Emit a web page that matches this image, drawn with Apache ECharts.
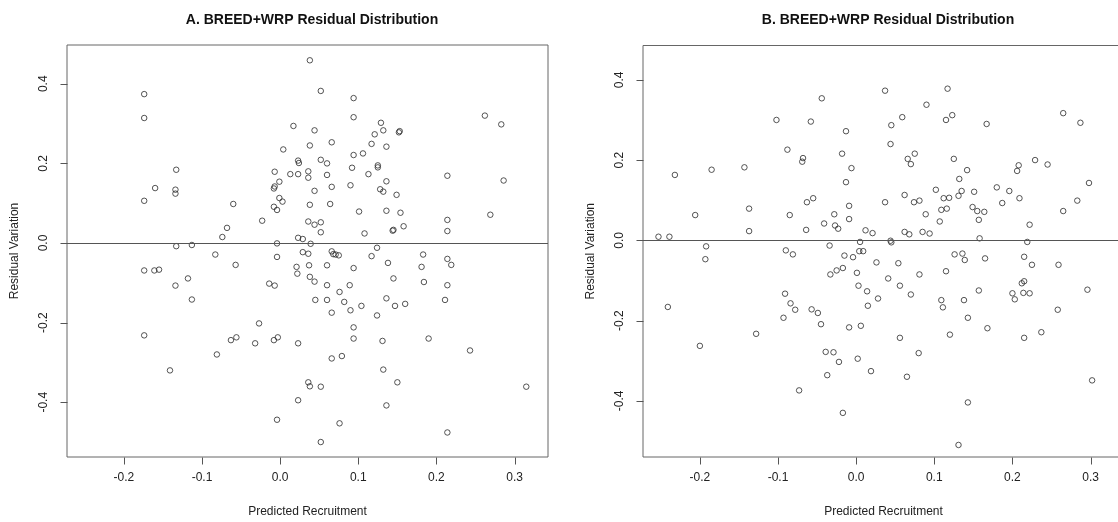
<!DOCTYPE html>
<html>
<head>
<meta charset="utf-8">
<script src="https://cdn.jsdelivr.net/npm/echarts@6/dist/echarts.min.js"></script>
<style>
html,body{margin:0;padding:0;background:#fff;}
#chart{width:1118px;height:522px;}
</style>
</head>
<body>
<div id="chart"></div>
<script>
// ---- Data ----
const titles = ["A. BREED+WRP Residual Distribution", "B. BREED+WRP Residual Distribution"];
const xAxisName = "Predicted Recruitment";
const yAxisName = "Residual Variation";
const xTicks = [-0.2, -0.1, 0.0, 0.1, 0.2, 0.3];
const yTicks = [-0.4, -0.2, 0.0, 0.2, 0.4];

const leftX = [
-0.174,-0.174,-0.133,-0.160,-0.134,-0.134,-0.174,-0.060,-0.068,-0.074,-0.023,0.017,0.004,-0.007,0.013,0.023,0.024,0.023,-0.001,-0.007,-0.008,-0.001,0.003,-0.008,-0.004,0.023,0.029,-0.133,-0.113,-0.004,
0.038,0.052,0.094,0.094,0.044,0.066,0.038,0.129,0.132,0.121,0.117,0.136,0.152,0.153,0.094,0.106,0.052,0.060,0.125,0.125,0.092,0.036,0.036,0.060,0.113,0.066,0.044,0.090,0.136,0.128,0.132,0.149,0.038,0.064,0.101,0.136,0.154,0.036,0.044,0.052,0.052,0.108,0.144,0.145,0.158,0.214,0.214,0.214,0.262,0.283,0.286,0.269,0.039,0.124,
-0.083,-0.057,-0.004,0.029,-0.174,-0.161,-0.155,-0.118,-0.134,-0.113,-0.014,-0.007,0.021,0.022,-0.027,-0.174,-0.063,-0.056,-0.032,-0.008,-0.003,0.023,-0.081,-0.141,0.023,-0.004,
0.036,0.066,0.068,0.071,0.075,0.117,0.037,0.060,0.094,0.138,0.183,0.181,0.214,0.219,0.038,0.044,0.060,0.089,0.076,0.145,0.184,0.214,0.045,0.060,0.082,0.104,0.090,0.066,0.136,0.147,0.160,0.211,0.124,0.094,0.094,0.131,0.190,0.243,0.066,0.079,0.132,0.036,0.038,0.052,0.150,0.136,0.076,0.214,0.052,0.315
];
const leftY = [
0.374,0.314,0.184,0.138,0.134,0.124,0.106,0.098,0.038,0.015,0.056,0.294,0.235,0.179,0.173,0.207,0.201,0.173,0.154,0.142,0.137,0.113,0.104,0.091,0.083,0.013,0.010,-0.008,-0.005,-0.001,
0.459,0.382,0.364,0.316,0.283,0.253,0.245,0.302,0.283,0.273,0.249,0.242,0.278,0.281,0.221,0.225,0.209,0.200,0.195,0.190,0.189,0.180,0.164,0.171,0.173,0.141,0.131,0.145,0.155,0.135,0.129,0.121,0.096,0.098,0.079,0.081,0.076,0.054,0.046,0.052,0.027,0.024,0.031,0.033,0.042,0.169,0.058,0.030,0.320,0.298,0.157,0.071,-0.002,-0.012,
-0.029,-0.055,-0.035,-0.023,-0.069,-0.069,-0.067,-0.089,-0.107,-0.142,-0.102,-0.107,-0.060,-0.077,-0.202,-0.232,-0.244,-0.237,-0.252,-0.244,-0.237,-0.252,-0.280,-0.320,-0.395,-0.444,
-0.027,-0.021,-0.028,-0.029,-0.031,-0.033,-0.056,-0.056,-0.063,-0.050,-0.029,-0.060,-0.040,-0.055,-0.085,-0.097,-0.106,-0.106,-0.123,-0.089,-0.098,-0.106,-0.143,-0.143,-0.148,-0.158,-0.169,-0.175,-0.139,-0.158,-0.153,-0.143,-0.182,-0.212,-0.240,-0.246,-0.240,-0.270,-0.290,-0.284,-0.318,-0.350,-0.360,-0.361,-0.350,-0.408,-0.453,-0.476,-0.500,-0.361
];

const rightX = [
-0.044,-0.102,-0.058,-0.013,-0.088,-0.068,-0.069,-0.018,-0.006,-0.232,-0.185,-0.143,-0.013,-0.063,-0.055,-0.009,-0.137,-0.206,-0.085,-0.028,-0.009,-0.041,-0.027,-0.023,-0.137,-0.064,0.012,0.021,-0.253,-0.239,-0.192,-0.034,0.005,
0.117,0.037,0.090,0.059,0.115,0.123,0.045,0.167,0.265,0.287,0.044,0.075,0.066,0.070,0.125,0.142,0.132,0.208,0.206,0.229,0.245,0.298,0.102,0.135,0.131,0.151,0.180,0.196,0.062,0.037,0.074,0.081,0.112,0.119,0.187,0.209,0.109,0.116,0.089,0.149,0.155,0.164,0.157,0.107,0.265,0.283,0.222,0.062,0.068,0.085,0.094,0.044,0.045,0.158,0.219,
-0.193,-0.241,-0.200,-0.128,-0.090,-0.081,0.004,0.009,-0.015,-0.004,-0.033,-0.025,-0.017,0.001,-0.091,-0.084,-0.078,-0.057,-0.049,0.003,0.014,0.015,-0.093,-0.045,-0.009,0.006,-0.039,-0.029,-0.022,0.002,0.019,-0.037,-0.073,-0.017,
0.026,0.054,0.126,0.136,0.139,0.165,0.215,0.225,0.259,0.041,0.056,0.081,0.115,0.070,0.028,0.109,0.111,0.138,0.143,0.157,0.168,0.120,0.200,0.203,0.212,0.215,0.214,0.222,0.258,0.237,0.215,0.056,0.080,0.296,0.065,0.143,0.131,0.302
];
const rightY = [
0.354,0.300,0.296,0.272,0.226,0.205,0.196,0.216,0.180,0.163,0.176,0.182,0.145,0.095,0.105,0.086,0.079,0.063,0.063,0.065,0.053,0.042,0.037,0.029,0.023,0.026,0.025,0.018,0.009,0.009,-0.015,-0.013,-0.004,
0.378,0.373,0.338,0.307,0.300,0.312,0.287,0.290,0.317,0.293,0.240,0.216,0.203,0.190,0.203,0.175,0.153,0.187,0.173,0.200,0.189,0.143,0.126,0.123,0.111,0.121,0.132,0.123,0.113,0.095,0.095,0.099,0.105,0.106,0.093,0.105,0.076,0.079,0.065,0.083,0.073,0.071,0.051,0.047,0.073,0.099,0.039,0.021,0.015,0.021,0.017,-0.001,-0.005,0.005,-0.004,
-0.047,-0.166,-0.263,-0.233,-0.025,-0.035,-0.027,-0.027,-0.038,-0.042,-0.085,-0.075,-0.069,-0.081,-0.133,-0.157,-0.173,-0.172,-0.181,-0.113,-0.127,-0.163,-0.193,-0.209,-0.217,-0.213,-0.278,-0.279,-0.303,-0.295,-0.326,-0.336,-0.374,-0.430,
-0.055,-0.057,-0.035,-0.033,-0.049,-0.045,-0.041,-0.061,-0.061,-0.095,-0.113,-0.085,-0.077,-0.135,-0.145,-0.149,-0.167,-0.149,-0.193,-0.125,-0.219,-0.235,-0.132,-0.147,-0.107,-0.102,-0.131,-0.132,-0.173,-0.229,-0.243,-0.243,-0.281,-0.123,-0.340,-0.404,-0.510,-0.349
];

// ---- Chart ----
const FONT = "'Liberation Sans', Arial, sans-serif";
const TXT = '#222';
const AX = '#555';
const BOX = '#666';
const TICK_LEN = 7;
const pair = (xs, ys) => xs.map((x, i) => [x, ys[i]]);

const panels = [
  {left: 67, top: 45, width: 481, height: 412, xmin: -0.2728, xmax: 0.3428, ymin: -0.5376, ymax: 0.4974, cx: 307},
  {left: 643, top: 45.5, width: 481, height: 411.5, xmin: -0.2728, xmax: 0.3428, ymin: -0.540, ymax: 0.4856, cx: 883}
];

const grid = [], xAxis = [], yAxis = [], series = [];

// tick marks drawn through the axes' own scales (api.coord), pointing outward from the frame
function tickSeries(i, data, dir) {
  return {
    type: 'custom', xAxisIndex: i, yAxisIndex: i, data: data, silent: true, clip: false, z: 5,
    renderItem: function (params, api) {
      const p = api.coord([api.value(0), api.value(1)]);
      const x = Math.round(p[0]) + 0.5, y = Math.round(p[1]) + 0.5;
      const shape = dir === 'down'
        ? {x1: x, y1: y, x2: x, y2: y + TICK_LEN}
        : {x1: x, y1: y, x2: x - TICK_LEN, y2: y};
      return {type: 'line', shape: shape, style: {stroke: AX, lineWidth: 1}};
    }
  };
}

panels.forEach((g, i) => {
  grid.push({left: g.left, top: g.top, width: g.width, height: g.height,
    show: true, borderColor: BOX, borderWidth: 1, backgroundColor: 'transparent',
    containLabel: false, outerBoundsMode: 'none'});
  xAxis.push({
    gridIndex: i, type: 'value', min: g.xmin, max: g.xmax, position: 'bottom',
    name: xAxisName, nameLocation: 'middle', nameGap: 49,
    nameTextStyle: {fontFamily: FONT, fontSize: 12, color: TXT},
    axisLine: {show: false, onZero: false},
    splitLine: {show: false},
    axisTick: {show: false},
    axisLabel: {show: true, customValues: xTicks, margin: 15, fontFamily: FONT, fontSize: 12, color: TXT,
      formatter: v => v.toFixed(1)}
  });
  yAxis.push({
    gridIndex: i, type: 'value', min: g.ymin, max: g.ymax, position: 'left',
    name: yAxisName, nameLocation: 'middle', nameGap: 46,
    nameTextStyle: {fontFamily: FONT, fontSize: 12, color: TXT},
    axisLine: {show: false, onZero: false},
    splitLine: {show: false},
    axisTick: {show: false},
    axisLabel: {show: true, customValues: yTicks, rotate: 90, margin: 17, fontFamily: FONT, fontSize: 12, color: TXT,
      formatter: v => v.toFixed(1)}
  });
  series.push({
    type: 'scatter', xAxisIndex: i, yAxisIndex: i, data: pair(i === 0 ? leftX : rightX, i === 0 ? leftY : rightY),
    symbol: 'circle', symbolSize: 5.5,
    itemStyle: {color: 'rgba(0,0,0,0)', borderColor: '#2a2a2a', borderWidth: 1},
    emphasis: {disabled: true},
    markLine: {
      silent: true, symbol: ['none', 'none'], animation: false,
      label: {show: false},
      lineStyle: {color: '#555', width: 1, type: 'solid'},
      data: [{yAxis: 0}]
    }
  });
  // x ticks sit on the bottom edge (axis min), y ticks on the left edge (axis min)
  series.push(tickSeries(i, xTicks.map(v => [v, g.ymin]), 'down'));
  series.push(tickSeries(i, yTicks.map(v => [g.xmin, v]), 'left'));
});

const chart = echarts.init(document.getElementById('chart'), null, {renderer: 'canvas'});
chart.setOption({
  animation: false,
  backgroundColor: '#fff',
  title: panels.map((g, i) => ({
    text: titles[i], left: g.cx, top: 8, textAlign: 'center',
    textStyle: {fontFamily: FONT, fontSize: 14, fontWeight: 'bold', color: '#111'}
  })),
  grid, xAxis, yAxis, series
});
</script>
</body>
</html>
